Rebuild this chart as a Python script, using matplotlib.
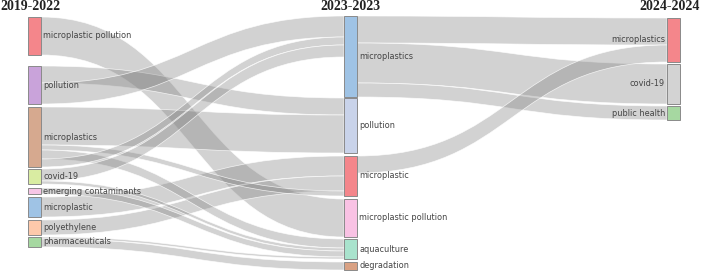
import matplotlib
matplotlib.use("Agg")
import matplotlib.pyplot as plt
from matplotlib.path import Path
from matplotlib.patches import PathPatch, Rectangle

# ---------------- data ----------------
periods = ["2019-2022", "2023-2023", "2024-2024"]

col1_labels = ["microplastic pollution", "pollution", "microplastics", "covid-19",
               "emerging contaminants", "microplastic", "polyethylene", "pharmaceuticals"]
col2_labels = ["microplastics", "pollution", "microplastic", "microplastic pollution",
               "aquaculture", "degradation"]
col3_labels = ["microplastics", "covid-19", "public health"]

col1_colors = ["#f4868b", "#c9a3da", "#d6a98f", "#d9eca2", "#f7c6e6",
               "#9fc3e5", "#fdc9ab", "#a6d8a1"]
col2_colors = ["#9fc3e5", "#c9d3ea", "#f4868b", "#f9c2e4", "#a9e3cd", "#d9a183"]
col3_colors = ["#f4868b", "#d3d3d3", "#a6d8a1"]

# links (column, node index) -> (column, node index), in stacking order
link_src = [(0, 0), (0, 1), (0, 1), (0, 2), (0, 5), (0, 6), (0, 2), (0, 2), (0, 2),
            (0, 3), (0, 3), (0, 4), (0, 7), (0, 7),
            (1, 0), (1, 0), (1, 0), (1, 2)]
link_tgt = [(1, 3), (1, 1), (1, 0), (1, 1), (1, 2), (1, 2), (1, 2), (1, 4), (1, 0),
            (1, 0), (1, 4), (1, 4), (1, 4), (1, 5),
            (2, 0), (2, 1), (2, 2), (2, 0)]
link_val = [38, 17, 21, 38, 20, 15, 5, 9, 8,
            12, 3, 6, 2, 8,
            27, 40, 14, 17]

# ---------------- layout ----------------
labels = [col1_labels, col2_labels, col3_labels]
colors = [col1_colors, col2_colors, col3_colors]
col_x = [28, 344, 667]
node_w = 13
col_top = [17, 16, 18]
col_gaps = [[11, 3, 2, 4, 3, 3, 2], [1, 3, 3, 2, 3], [2, 2]]
scale = 1.0

inflow = {}
outflow = {}
for s, t, v in zip(link_src, link_tgt, link_val):
    outflow[s] = outflow.get(s, 0) + v
    inflow[t] = inflow.get(t, 0) + v

node_y = {}
node_h = {}
for c in range(3):
    y = col_top[c]
    for i in range(len(labels[c])):
        h = max(inflow.get((c, i), 0), outflow.get((c, i), 0)) * scale
        node_y[(c, i)] = y
        node_h[(c, i)] = h
        if i < len(col_gaps[c]):
            y += h + col_gaps[c][i]

fig = plt.figure(figsize=(7.02, 2.72), dpi=100)
ax = fig.add_axes([0, 0, 1, 1])
ax.set_xlim(0, 702)
ax.set_ylim(272, 0)
ax.axis("off")

# links
src_off = {k: 0.0 for k in node_y}
tgt_off = {k: 0.0 for k in node_y}
for s, t, v in zip(link_src, link_tgt, link_val):
    w = v * scale
    x0 = col_x[s[0]] + node_w
    x1 = col_x[t[0]]
    y0 = node_y[s] + src_off[s]
    y1 = node_y[t] + tgt_off[t]
    src_off[s] += w
    tgt_off[t] += w
    xm = (x0 + x1) / 2
    verts = [(x0, y0), (xm, y0), (xm, y1), (x1, y1),
             (x1, y1 + w), (xm, y1 + w), (xm, y0 + w), (x0, y0 + w), (x0, y0)]
    codes = [Path.MOVETO, Path.CURVE4, Path.CURVE4, Path.CURVE4,
             Path.LINETO, Path.CURVE4, Path.CURVE4, Path.CURVE4, Path.CLOSEPOLY]
    ax.add_patch(PathPatch(Path(verts, codes), facecolor=(0.5, 0.5, 0.5, 0.35),
                           edgecolor=(1, 1, 1, 0.8), lw=0.5, zorder=1))

# nodes + labels
for c in range(3):
    for i, lab in enumerate(labels[c]):
        y = node_y[(c, i)]
        h = node_h[(c, i)]
        ax.add_patch(Rectangle((col_x[c], y), node_w, h, facecolor=colors[c][i],
                               edgecolor="#8a8a8a", lw=0.7, zorder=2))
        if c < 2:
            ax.text(col_x[c] + node_w + 2, y + h / 2, lab, ha="left", va="center",
                    fontsize=5.9, color="#444444", zorder=3)
        else:
            ax.text(col_x[c] - 2, y + h / 2, lab, ha="right", va="center",
                    fontsize=5.9, color="#444444", zorder=3)

# column headers
hdr = dict(fontsize=10, fontweight="bold", family="Liberation Serif", color="#222222",
           va="center")
ax.text(0, 7, periods[0], ha="left", **hdr)
ax.text(350, 7, periods[1], ha="center", **hdr)
ax.text(700, 7, periods[2], ha="right", **hdr)

fig.savefig("out.png", dpi=100)
